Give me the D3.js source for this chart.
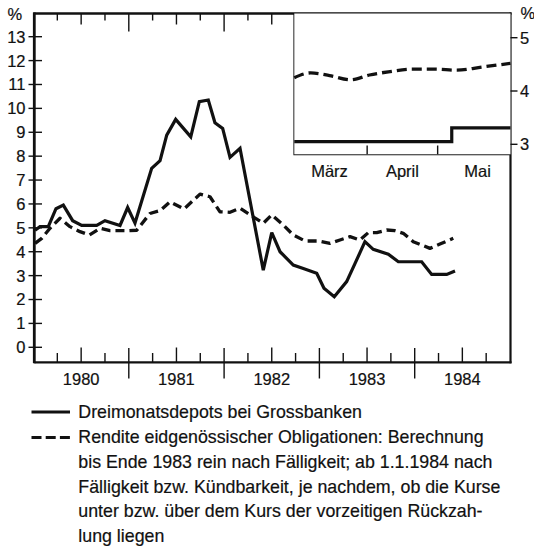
<!DOCTYPE html>
<html>
<head>
<meta charset="utf-8">
<script src="https://cdn.jsdelivr.net/npm/d3@7"></script>
<style>
  html, body { margin: 0; padding: 0; background: #fff; }
  svg { display: block; font-family: "Liberation Sans", Arial, Helvetica, sans-serif; }
</style>
</head>
<body>
<svg id="chart" width="534" height="552"></svg>
<script>
// ---------- DATA ----------
const yearLabels = ["1980", "1981", "1982", "1983", "1984"];
const yTicks = [0,1,2,3,4,5,6,7,8,9,10,11,12,13];

// Dreimonatsdepots bei Grossbanken (decimal year, %)
const solidTime = [1980.016,1980.068,1980.155,1980.236,1980.313,1980.411,1980.506,1980.663,1980.750,1980.908,
  1980.988,1981.065,1981.240,1981.328,1981.398,1981.492,1981.650,1981.740,1981.834,1981.904,
  1981.985,1982.062,1982.167,1982.411,1982.500,1982.587,1982.726,1982.831,1982.972,1983.048,
  1983.156,1983.286,1983.373,1983.478,1983.565,1983.723,1983.828,1984.073,1984.178,1984.336,1984.423];
const solidValue = [4.9,5.05,5.05,5.8,5.95,5.3,5.1,5.1,5.3,5.1,
  5.85,5.2,7.49,7.81,8.88,9.54,8.81,10.28,10.35,9.4,
  9.16,7.95,8.33,3.23,4.8,4.0,3.44,3.3,3.1,2.47,
  2.12,2.75,3.5,4.42,4.1,3.9,3.58,3.58,3.05,3.05,3.19];

// Rendite eidgenössischer Obligationen (decimal year, %)
const dashTime = [1980.016,1980.086,1980.173,1980.278,1980.383,1980.488,1980.586,1980.698,1980.803,1980.978,
  1981.083,1981.222,1981.328,1981.433,1981.579,1981.747,1981.852,1981.957,1982.062,1982.167,
  1982.290,1982.411,1982.500,1982.621,1982.726,1982.849,1982.988,1983.111,1983.216,1983.321,
  1983.426,1983.513,1983.601,1983.706,1983.793,1983.880,1983.985,1984.073,1984.160,1984.265,1984.405];
const dashValue = [4.35,4.56,4.98,5.4,5.05,4.84,4.7,4.98,4.88,4.88,
  4.9,5.6,5.72,6.09,5.79,6.41,6.3,5.67,5.65,5.82,
  5.5,5.19,5.54,5.12,4.7,4.45,4.45,4.35,4.49,4.63,
  4.49,4.8,4.8,4.91,4.88,4.77,4.42,4.28,4.14,4.32,4.56];

// Inset: March - May 1984
const insetMonths = ["März", "April", "Mai"];
const insetMonthLabelDates = ["1984-03-16", "1984-04-16", "1984-05-18"];
const insetTickDates = ["1984-04-01", "1984-05-01"];
const insetYTicks = [3, 4, 5];
const insetDashDates = ["1984-03-01","1984-03-08","1984-03-16","1984-03-25","1984-04-02","1984-04-10",
  "1984-04-20","1984-04-30","1984-05-09","1984-05-20","1984-06-01"];
const insetDashValue = [4.25,4.34,4.29,4.21,4.30,4.36,4.41,4.41,4.39,4.45,4.52];
const insetSolidDates = ["1984-03-01","1984-05-07","1984-06-01"];
const insetSolidValue = [3.05,3.31,3.31];

const legendSolid = ["Dreimonatsdepots bei Grossbanken"];
const legendDashed = [
  "Rendite eidgenössischer Obligationen: Berechnung",
  "bis Ende 1983 rein nach Fälligkeit; ab 1.1.1984 nach",
  "Fälligkeit bzw. Kündbarkeit, je nachdem, ob die Kurse",
  "unter bzw. über dem Kurs der vorzeitigen Rückzah-",
  "lung liegen"
];

// ---------- DRAW ----------
const svg = d3.select("#chart");
const L = 34.3, R = 510.5, T = 13.5, B = 362.3;

const x = d3.scaleLinear().domain([1980, 1985]).range([33.5, 510]);
const y = d3.scaleLinear().domain([0, 13]).range([347.3, 36.7]);

const parse = d3.timeParse("%Y-%m-%d");
const xi = d3.scaleTime().domain([parse("1984-03-01"), parse("1984-06-01")]).range([294.3, R]);
const yi = d3.scaleLinear().domain([3, 5]).range([144.3, 37.7]);

const quarters = d3.range(1, 20).map(k => 1980 + k / 4);
const g = svg.append("g").attr("stroke", "#111").attr("fill", "none");

// bottom ticks
quarters.forEach((q, i) => {
  const k = i + 1;
  const xx = x(q);
  if (k % 4 === 0) g.append("line").attr("x1", xx).attr("x2", xx).attr("y1", 348).attr("y2", 378.5).attr("stroke-width", 1.4);
  else if (k % 2 === 0) g.append("line").attr("x1", xx).attr("x2", xx).attr("y1", 347.5).attr("y2", B).attr("stroke-width", 1.4);
  else g.append("line").attr("x1", xx).attr("x2", xx).attr("y1", 353).attr("y2", B).attr("stroke-width", 1.4);
});
// top ticks
quarters.forEach((q, i) => {
  const k = i + 1;
  const xx = x(q);
  const len = k % 4 === 0 ? 18 : (k % 2 === 0 ? 11 : 7);
  g.append("line").attr("x1", xx).attr("x2", xx).attr("y1", T).attr("y2", T + len).attr("stroke-width", 1.4);
});

// y ticks left
yTicks.forEach(v => {
  g.append("line").attr("x1", 28.5).attr("x2", 42).attr("y1", y(v)).attr("y2", y(v)).attr("stroke-width", 1.4);
});

// main lines
const line = d3.line().x(d => x(d[0])).y(d => y(d[1]));
svg.append("path")
  .datum(solidTime.map((t, i) => [t, solidValue[i]]))
  .attr("d", line).attr("fill", "none").attr("stroke", "#111")
  .attr("stroke-width", 3.2).attr("stroke-linejoin", "miter").attr("stroke-miterlimit", 3);
svg.append("path")
  .datum(dashTime.map((t, i) => [t, dashValue[i]]))
  .attr("d", line).attr("fill", "none").attr("stroke", "#111")
  .attr("stroke-width", 3.3).attr("stroke-dasharray", "9,5").attr("stroke-linejoin", "round");

// inset box
svg.append("rect").attr("x", 294.3).attr("y", T).attr("width", R - 294.3).attr("height", 154.3 - T).attr("fill", "#fff");
g.append("path").attr("d", `M294.3,${T} V154.3 H${R}`).attr("stroke-width", 1.8);
const gi = svg.append("g").attr("stroke", "#111").attr("fill", "none");
insetTickDates.forEach(d => {
  const xx = xi(parse(d));
  gi.append("line").attr("x1", xx).attr("x2", xx).attr("y1", 145.5).attr("y2", 154.3).attr("stroke-width", 1.4);
});
insetYTicks.forEach(v => {
  gi.append("line").attr("x1", R).attr("x2", 517.5).attr("y1", yi(v)).attr("y2", yi(v)).attr("stroke-width", 1.4);
});
const lineI = d3.line().x(d => xi(d[0])).y(d => yi(d[1]));
svg.append("path")
  .datum(insetDashDates.map((d, i) => [parse(d), insetDashValue[i]]))
  .attr("d", lineI.curve(d3.curveMonotoneX)).attr("fill", "none").attr("stroke", "#111")
  .attr("stroke-width", 3.3).attr("stroke-dasharray", "10,5");
svg.append("path")
  .datum(insetSolidDates.map((d, i) => [parse(d), insetSolidValue[i]]))
  .attr("d", d3.line().x(d => xi(d[0])).y(d => yi(d[1])).curve(d3.curveStepAfter))
  .attr("fill", "none").attr("stroke", "#111").attr("stroke-width", 3.2);

// frame
g.append("line").attr("x1", L - 1).attr("x2", R + 1).attr("y1", T).attr("y2", T).attr("stroke-width", 2.5);
g.append("line").attr("x1", L).attr("x2", L).attr("y1", T - 1).attr("y2", B + 1).attr("stroke-width", 2.8);
g.append("line").attr("x1", L).attr("x2", R + 1).attr("y1", B).attr("y2", B).attr("stroke-width", 2.2);
g.append("line").attr("x1", R).attr("x2", R).attr("y1", T - 1).attr("y2", B + 1).attr("stroke-width", 2.2);

// text
const txt = svg.append("g").attr("fill", "#111").attr("stroke", "#111").attr("stroke-width", 0.2);
yTicks.forEach(v => {
  txt.append("text").attr("x", 25.5).attr("y", y(v)).attr("dy", "0.36em")
    .attr("text-anchor", "end").attr("font-size", 16.5).text(v);
});
txt.append("text").attr("x", 7.5).attr("y", 20).attr("font-size", 16.5).text("%");
yearLabels.forEach(yr => {
  txt.append("text").attr("x", x(+yr + 0.5)).attr("y", 384.5)
    .attr("text-anchor", "middle").attr("font-size", 16.5).text(yr);
});
insetYTicks.forEach(v => {
  txt.append("text").attr("x", 520).attr("y", yi(v)).attr("dy", "0.36em")
    .attr("font-size", 16.5).text(v);
});
txt.append("text").attr("x", 520.5).attr("y", 19).attr("font-size", 16.5).text("%");
insetMonths.forEach((m, i) => {
  txt.append("text").attr("x", xi(parse(insetMonthLabelDates[i]))).attr("y", 176.5)
    .attr("text-anchor", "middle").attr("font-size", 16.5).text(m);
});

// legend
const lg = svg.append("g");
lg.append("line").attr("x1", 31.5).attr("x2", 70).attr("y1", 412).attr("y2", 412)
  .attr("stroke", "#111").attr("stroke-width", 3.2);
lg.append("line").attr("x1", 31.5).attr("x2", 70).attr("y1", 437.5).attr("y2", 437.5)
  .attr("stroke", "#111").attr("stroke-width", 3.2).attr("stroke-dasharray", "10,4.2");
const legFont = 17.8;
const lt = lg.append("g").attr("fill", "#111").attr("stroke", "#111").attr("stroke-width", 0.2);
legendSolid.forEach((t, i) => {
  lt.append("text").attr("x", 78.3).attr("y", 418).attr("font-size", legFont).text(t);
});
legendDashed.forEach((t, i) => {
  lt.append("text").attr("x", 78.3).attr("y", 443 + i * 24.8).attr("font-size", legFont).text(t);
});
</script>
</body>
</html>
